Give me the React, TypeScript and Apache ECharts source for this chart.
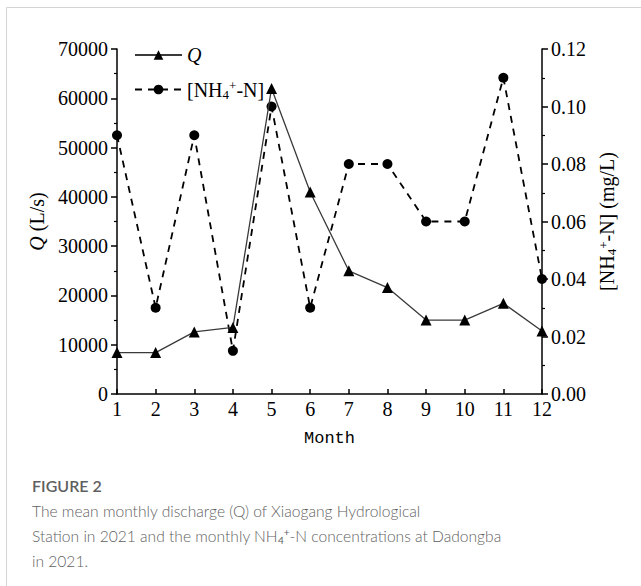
import React, { useEffect, useRef } from "react";
import * as echarts from "echarts";

// Months of 2021
const months = ["1", "2", "3", "4", "5", "6", "7", "8", "9", "10", "11", "12"];
// Mean monthly discharge Q at Xiaogang station (L/s)
const discharge = [8400, 8400, 12600, 13500, 62000, 41000, 25000, 21600, 15000, 15000, 18400, 12800];
// Monthly NH4+-N concentration at Dadongba (mg/L)
const ammonium = [0.09, 0.03, 0.09, 0.015, 0.1, 0.03, 0.08, 0.08, 0.06, 0.06, 0.11, 0.04];
// Axis tick values
const qTicks = [0, 10000, 20000, 30000, 40000, 50000, 60000, 70000];
const nTicks = [0, 0.02, 0.04, 0.06, 0.08, 0.1, 0.12];

const SERIF = "'Liberation Serif', 'Times New Roman', serif";
const CAPTION = "Lato, 'Open Sans', sans-serif";

export default function App() {
  const ref = useRef<HTMLDivElement>(null);

  useEffect(() => {
    if (!ref.current) return;
    const chart = echarts.init(ref.current, null, { renderer: "svg" });

    const chemRich = {
      sub: { fontFamily: SERIF, fontSize: 13, color: "#000", padding: [9, 0, 0, 0] },
      sup: { fontFamily: SERIF, fontSize: 13, color: "#000", padding: [0, 0, 8, 0] },
      i: { fontFamily: SERIF, fontSize: 20, fontStyle: "italic", color: "#000" },
    };

    const yAxisCommon = {
      type: "value" as const,
      splitLine: { show: false },
      axisLine: { show: true, lineStyle: { color: "#000", width: 1.5 } },
      axisTick: { show: true, inside: false, length: 6, lineStyle: { color: "#000", width: 1.5 } },
      minorTick: { show: true, splitNumber: 2, length: 3, lineStyle: { color: "#000", width: 1.2 } },
      axisLabel: { fontFamily: SERIF, fontSize: 20, color: "#000", margin: 9 },
      nameLocation: "middle" as const,
      nameRotate: 90,
      nameTextStyle: { fontFamily: SERIF, fontSize: 20, color: "#000", rich: chemRich },
    };

    chart.setOption({
      animation: false,
      backgroundColor: "#fff",
      grid: { left: 117, right: 99, top: 49, bottom: 192, containLabel: false },
      legend: {
        orient: "vertical",
        left: 129,
        top: 40,
        itemWidth: 47,
        itemHeight: 12,
        itemGap: 14,
        textStyle: { fontFamily: SERIF, fontSize: 20, color: "#000", rich: chemRich },
        formatter: (name: string) => (name === "Q" ? "{i|Q}" : "[NH{sub|4}{sup|+}-N]"),
        data: ["Q", "NH4"],
      },
      xAxis: {
        type: "category",
        data: months,
        boundaryGap: false,
        axisLine: { show: true, lineStyle: { color: "#000", width: 1.5 } },
        axisTick: { show: true, inside: true, length: 5, alignWithLabel: true, lineStyle: { color: "#000", width: 1.5 } },
        axisLabel: { fontFamily: SERIF, fontSize: 20, color: "#000", margin: 5 },
        name: "Month",
        nameLocation: "middle",
        nameGap: 36,
        nameTextStyle: { fontFamily: "'Liberation Mono', monospace", fontSize: 17, color: "#000" },
      },
      yAxis: [
        {
          ...yAxisCommon,
          position: "left",
          min: 0,
          max: 70000,
          interval: 10000,
          name: "{i|Q} (L/s)",
          nameGap: 66,
          axisLabel: {
            ...yAxisCommon.axisLabel,
            customValues: qTicks,
            formatter: (v: number) => String(v),
          },
        },
        {
          ...yAxisCommon,
          position: "right",
          min: 0,
          max: 0.12,
          interval: 0.02,
          name: "[NH{sub|4}{sup|+}-N] (mg/L)",
          nameGap: 48,
          axisLabel: {
            ...yAxisCommon.axisLabel,
            customValues: nTicks,
            formatter: (v: number) => v.toFixed(2),
          },
        },
      ],
      series: [
        {
          name: "Q",
          type: "line",
          yAxisIndex: 0,
          data: discharge,
          symbol: "triangle",
          symbolSize: 11,
          lineStyle: { color: "#3a3a3a", width: 1.3, type: "solid" },
          itemStyle: { color: "#000" },
          z: 3,
        },
        {
          name: "NH4",
          type: "line",
          yAxisIndex: 1,
          data: ammonium,
          symbol: "circle",
          symbolSize: 10,
          lineStyle: { color: "#000", width: 1.8, type: [7, 6] },
          itemStyle: { color: "#000" },
          z: 2,
        },
      ],
      graphic: [
        { type: "line", shape: { x1: 6.5, y1: 7.5, x2: 641, y2: 7.5 }, style: { stroke: "#d4d4d4", lineWidth: 1 } },
        { type: "line", shape: { x1: 6.5, y1: 7.5, x2: 6.5, y2: 586 }, style: { stroke: "#d4d4d4", lineWidth: 1 } },
        {
          type: "text",
          left: 32,
          top: 477,
          style: { text: "FIGURE 2", fontFamily: CAPTION, fontSize: 16, fontWeight: 600, fill: "#5f5f5f" },
        },
        {
          type: "text",
          left: 32,
          top: 503,
          style: {
            text: "The mean monthly discharge (Q) of Xiaogang Hydrological",
            fontFamily: CAPTION,
            fontSize: 15.6,
            fontWeight: 300,
            fill: "#5f5f5f",
          },
        },
        {
          type: "text",
          left: 32,
          top: 527,
          style: {
            text: "Station in 2021 and the monthly NH{sub|4}{sup|+}-N concentrations at Dadongba",
            fontFamily: CAPTION,
            fontSize: 15.6,
            fontWeight: 300,
            fill: "#5f5f5f",
            rich: {
              sub: { fontFamily: CAPTION, fontSize: 10, fill: "#5f5f5f", padding: [8, 0, 0, 0] },
              sup: { fontFamily: CAPTION, fontSize: 10, fill: "#5f5f5f", padding: [0, 0, 7, 0] },
            },
          },
        },
        {
          type: "text",
          left: 32,
          top: 553,
          style: { text: "in 2021.", fontFamily: CAPTION, fontSize: 15.6, fontWeight: 300, fill: "#5f5f5f" },
        },
      ],
    });

    return () => chart.dispose();
  }, []);

  return (
    <div
      ref={ref}
      style={{ position: "fixed", left: 0, top: 0, width: 641, height: 586, background: "#fff" }}
    />
  );
}
